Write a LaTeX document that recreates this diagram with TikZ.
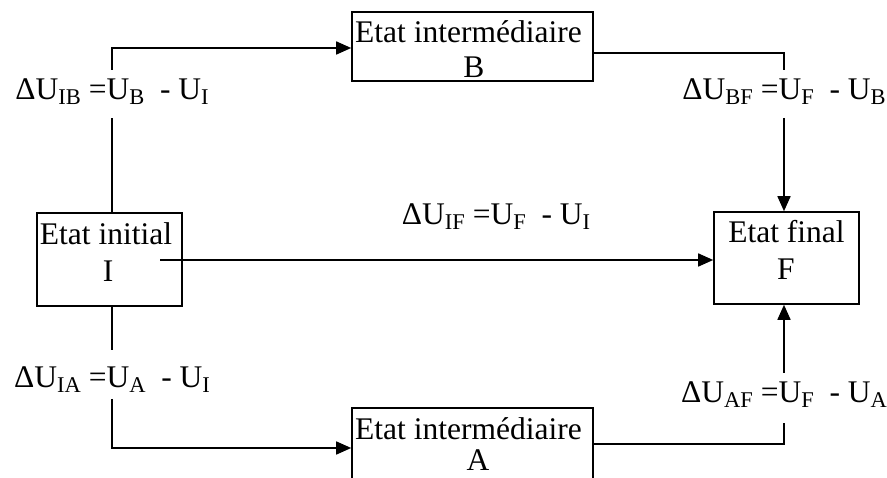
\documentclass[tikz,border=0pt]{standalone}
\usepackage{fontspec}
\setmainfont{Liberation Serif}
\usetikzlibrary{arrows.meta}
\newcommand{\sbs}[1]{\raisebox{-5pt}{\fontsize{22.5}{22}\selectfont #1}}
\tikzset{
  box/.style={draw, line width=1.6pt, rectangle, inner sep=0pt},
  txt/.style={inner sep=0pt, anchor=base, font=\fontsize{31.5}{36}\selectfont},
  eq/.style={inner sep=0pt, anchor=base, font=\fontsize{31.5}{36}\selectfont},
  conn/.style={line width=1.6pt},
  arr/.style={line width=1.6pt, -{Triangle[length=15pt,width=13pt]}}
}
\begin{document}
\begin{tikzpicture}[x=1pt,y=-1pt]
\useasboundingbox (0,0) rectangle (887,478);
\clip (0,0) rectangle (887,478);
% boxes
\node[box, minimum width=241pt, minimum height=69pt] (B) at (472.5,46.5) {};
\node[box, minimum width=145pt, minimum height=93pt] (I) at (109.5,259.5) {};
\node[box, minimum width=145pt, minimum height=92pt] (F) at (786.5,258) {};
\node[box, minimum width=241pt, minimum height=80pt] (A) at (472.5,448) {};
% box texts
\node[txt] (Bt1) at (468.5,43) {Etat intermédiaire};
\node[txt] (Bt2) at (474,78) {B};
\node[txt] (It1) at (106,245) {Etat initial};
\node[txt] (It2) at (108,282) {I};
\node[txt] (Ft1) at (786.5,243) {Etat final};
\node[txt] (Ft2) at (786,280) {F};
\node[txt] (At1) at (468.5,439) {Etat intermédiaire};
\node[txt] (At2) at (478,471) {A};
% labels
\node[eq] (LIB) at (112,100) {ΔU\sbs{IB} =U\sbs{B}\ \ - U\sbs{I}};
\node[eq] (LBF) at (784,100) {ΔU\sbs{BF} =U\sbs{F}\ \ - U\sbs{B}};
\node[eq] (LIF) at (496,225) {ΔU\sbs{IF} =U\sbs{F}\ \ - U\sbs{I}};
\node[eq] (LIA) at (112,388) {ΔU\sbs{IA} =U\sbs{A}\ \ - U\sbs{I}};
\node[eq] (LAF) at (784,403) {ΔU\sbs{AF} =U\sbs{F}\ \ - U\sbs{A}};
% gap coordinates
\coordinate (ib1) at (112,118);
\coordinate (ib2) at (112,70);
\coordinate (bf1) at (784,70);
\coordinate (bf2) at (784,118);
\coordinate (if0) at (160,260);
\coordinate (ia1) at (112,350);
\coordinate (ia2) at (112,399);
\coordinate (af1) at (784,423);
\coordinate (af2) at (784,373);
% connectors
\draw[conn] (I.north -| ib1) -- (ib1);
\draw[arr] (ib2) |- ([yshift=-1.5pt]B.west);
\draw[conn] ([yshift=-6.5pt]B.east) -| (bf1);
\draw[arr] (bf2) -- (F.north -| bf2);
\draw[arr] (if0) -- (F.west |- if0);
\draw[conn] (I.south -| ia1) -- (ia1);
\draw[arr] (ia2) |- (A.west);
\draw[conn] ([yshift=4pt]A.east) -| (af1);
\draw[arr] (af2) -- (F.south -| af2);
\end{tikzpicture}
\end{document}
